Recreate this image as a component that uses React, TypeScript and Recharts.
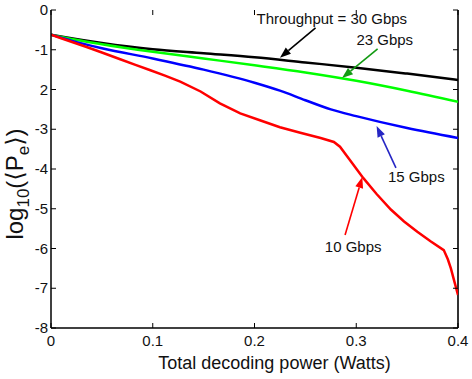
import { LineChart, Line, XAxis, YAxis, ReferenceLine, ReferenceDot } from 'recharts'

const xTicks = [0, 0.1, 0.2, 0.3, 0.4]
const yTicks = [-8, -7, -6, -5, -4, -3, -2, -1, 0]
const yTickLabels = ['-8', '-7', '-6', '-5', '-4', '-3', '2', '-1', '0']

// Throughput = 30 Gbps
const x30 = [0, 0.02, 0.05, 0.1, 0.15, 0.2, 0.25, 0.3, 0.35, 0.4]
const y30 = [-0.62, -0.71, -0.83, -0.99, -1.09, -1.19, -1.32, -1.45, -1.6, -1.76]
// 23 Gbps
const x23 = [0, 0.02, 0.05, 0.1, 0.15, 0.2, 0.25, 0.3, 0.35, 0.4]
const y23 = [-0.62, -0.73, -0.86, -1.05, -1.22, -1.39, -1.57, -1.78, -2.03, -2.31]
// 15 Gbps
const x15 = [0, 0.02, 0.05, 0.1, 0.15, 0.2, 0.225, 0.25, 0.275, 0.3, 0.35, 0.4]
const y15 = [-0.62, -0.77, -0.96, -1.22, -1.5, -1.83, -2.03, -2.27, -2.5, -2.67, -2.97, -3.22]
// 10 Gbps
const x10 = [
  0, 0.01, 0.02, 0.035, 0.05, 0.068, 0.083, 0.097, 0.112, 0.127, 0.147, 0.166, 0.186, 0.206, 0.225, 0.245, 0.265, 0.278,
  0.284, 0.295, 0.307, 0.32, 0.334, 0.347, 0.36, 0.373, 0.386, 0.39, 0.393, 0.396, 0.4,
]
const y10 = [
  -0.62, -0.71, -0.8, -0.93, -1.07, -1.24, -1.38, -1.51, -1.65, -1.8, -2.05, -2.35, -2.6, -2.78, -2.95, -3.09, -3.22, -3.32,
  -3.44, -3.82, -4.23, -4.63, -5.02, -5.32, -5.58, -5.82, -6.04, -6.27, -6.5, -6.79, -7.17,
]

// annotations (data units)
const annoText = ['Throughput = 30 Gbps', '23 Gbps', '15 Gbps', '10 Gbps']
const annoTextX = [0.276, 0.328, 0.359, 0.297]
const annoTextY = [-0.35, -0.88, -4.33, -6.09]
const arrowTailX = [0.26, 0.321, 0.339, 0.289]
const arrowTailY = [-0.45, -0.98, -3.97, -5.66]
const arrowTipX = [0.225, 0.286, 0.32, 0.306]
const arrowTipY = [-1.2, -1.71, -2.92, -4.2]
const arrowColors = ['#000000', '#129a12', '#2626c4', '#ff0000']

const toPoints = (xs: number[], ys: number[]) => xs.map((x, i) => ({ x, y: ys[i] }))

const W = 472
const H = 379
const PLOT_W = 407
const PLOT_H = 318
const FONT = '"Liberation Sans", Arial, sans-serif'

const XTick = (props: any) => {
  const { x, y, payload } = props
  return (
    <g>
      <line x1={x} x2={x} y1={y} y2={y - 5} stroke="#000" strokeWidth={1} />
      <line x1={x} x2={x} y1={y - PLOT_H} y2={y - PLOT_H + 5} stroke="#000" strokeWidth={1} />
      <text x={x} y={y + 18} textAnchor="middle" fontSize={15} fontFamily={FONT} fill="#111">
        {payload.value}
      </text>
    </g>
  )
}

const YTick = (props: any) => {
  const { x, y, payload } = props
  const label = yTickLabels[yTicks.indexOf(payload.value)]
  return (
    <g>
      <line x1={x} x2={x + 5} y1={y} y2={y} stroke="#000" strokeWidth={1} />
      <line x1={x + PLOT_W - 5} x2={x + PLOT_W} y1={y} y2={y} stroke="#000" strokeWidth={1} />
      <text x={x - 3} y={y + 5} textAnchor="end" fontSize={15} fontFamily={FONT} fill="#111">
        {label}
      </text>
    </g>
  )
}

const Arrow = (color: string) => (props: any) => {
  const { x1, y1, x2, y2 } = props
  const ang = Math.atan2(y2 - y1, x2 - x1)
  const len = 11
  const half = 4
  const bx = x2 - len * Math.cos(ang)
  const by = y2 - len * Math.sin(ang)
  const px = -Math.sin(ang) * half
  const py = Math.cos(ang) * half
  return (
    <g>
      <line x1={x1} y1={y1} x2={bx} y2={by} stroke={color} strokeWidth={1.6} />
      <polygon points={`${x2},${y2} ${bx + px},${by + py} ${bx - px},${by - py}`} fill={color} />
    </g>
  )
}

const AnnoLabel = (text: string) => (props: any) => (
  <text x={props.cx} y={props.cy} textAnchor="middle" fontSize={15} fontFamily={FONT} fill="#111">
    {text}
  </text>
)

const YLabel = (props: any) => {
  const { viewBox } = props
  const cx = viewBox.x + 23
  const cy = viewBox.y + 174
  return (
    <text
      x={cx}
      y={cy}
      transform={`rotate(-90, ${cx}, ${cy})`}
      textAnchor="middle"
      fontSize={24}
      fontFamily={'"Liberation Sans", "DejaVu Sans", Arial, sans-serif'}
      fill="#111"
    >
      log
      <tspan fontSize={17} dy={6}>10</tspan>
      <tspan dy={-6}>(⟨P</tspan>
      <tspan fontSize={17} dy={6}>e</tspan>
      <tspan dy={-6}>⟩)</tspan>
    </text>
  )
}

const XLabel = (props: any) => {
  const { viewBox } = props
  return (
    <text
      x={viewBox.x + viewBox.width / 2 + 20}
      y={viewBox.y + 41}
      textAnchor="middle"
      fontSize={18}
      fontFamily={FONT}
      fill="#111"
    >
      Total decoding power (Watts)
    </text>
  )
}

export default function App() {
  return (
    <div style={{ position: 'absolute', left: 0, top: 0, width: W, height: H, background: '#fff' }}>
      <LineChart width={W} height={H} margin={{ top: 10, right: 14, bottom: 0, left: 0 }}>
        <XAxis
          type="number"
          dataKey="x"
          domain={[0, 0.4]}
          ticks={xTicks}
          height={51}
          tickSize={0}
          tickMargin={0}
          stroke="#000"
          strokeWidth={1.5}
          tick={<XTick />}
          label={{ content: <XLabel /> }}
          allowDataOverflow
        />
        <YAxis
          type="number"
          dataKey="y"
          domain={[-8, 0]}
          ticks={yTicks}
          width={51}
          tickSize={0}
          tickMargin={0}
          stroke="#000"
          strokeWidth={1.5}
          tick={<YTick />}
          label={{ content: <YLabel /> }}
          allowDataOverflow
        />
        <ReferenceLine x={0.4} stroke="#333" strokeWidth={2} />
        <Line data={toPoints(x30, y30)} dataKey="y" type="monotone" stroke="#000000" strokeWidth={2.5} dot={false} isAnimationActive={false} />
        <Line data={toPoints(x23, y23)} dataKey="y" type="monotone" stroke="#00ff00" strokeWidth={2.5} dot={false} isAnimationActive={false} />
        <Line data={toPoints(x15, y15)} dataKey="y" type="monotone" stroke="#0000ff" strokeWidth={2.5} dot={false} isAnimationActive={false} />
        <Line data={toPoints(x10, y10)} dataKey="y" type="linear" stroke="#ff0000" strokeWidth={2.5} dot={false} isAnimationActive={false} />
        {annoText.map((t, i) => (
          <ReferenceLine
            key={`arrow-${i}`}
            segment={[
              { x: arrowTailX[i], y: arrowTailY[i] },
              { x: arrowTipX[i], y: arrowTipY[i] },
            ]}
            shape={Arrow(arrowColors[i])}
          />
        ))}
        {annoText.map((t, i) => (
          <ReferenceDot key={`label-${i}`} x={annoTextX[i]} y={annoTextY[i]} r={0} shape={AnnoLabel(t)} />
        ))}
      </LineChart>
    </div>
  )
}
